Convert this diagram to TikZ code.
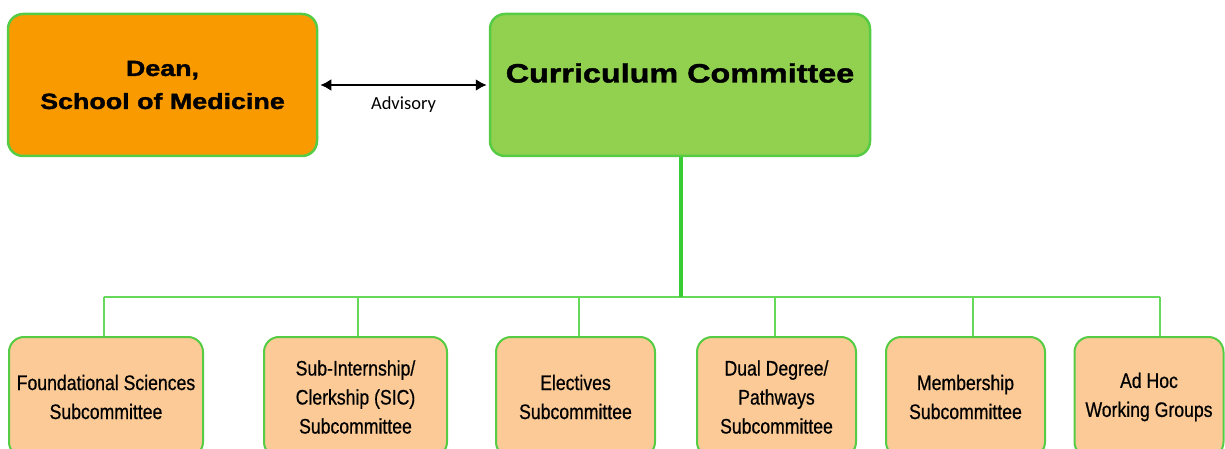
\documentclass[tikz,border=0pt]{standalone}
\usepackage{fontspec}
\setmainfont{Liberation Sans}
\newfontfamily\headfont[FakeStretch=1.22, BoldFeatures={FakeBold=1.6}]{Liberation Sans}
\newfontfamily\subfont[FakeStretch=0.84, FakeBold=0.6]{Liberation Sans}
\newfontfamily\notefont{Carlito}
\usetikzlibrary{arrows.meta}
\definecolor{deanorange}{HTML}{F99B00}
\definecolor{ccgreen}{HTML}{92D050}
\definecolor{subpeach}{HTML}{FBCA97}
\definecolor{edgegreen}{HTML}{55CC44}
\definecolor{linkgreen}{HTML}{66D95A}
\definecolor{trunkgreen}{HTML}{3ACC35}
\tikzset{
topbox/.style={
  rectangle,
  rounded corners=15pt,
  draw=edgegreen,
  line width=2.5pt,
  minimum height=142pt,
  align=center
},
subbox/.style={
  rectangle,
  rounded corners=15pt,
  draw=edgegreen,
  line width=2pt,
  fill=subpeach,
  minimum height=120pt,
  align=center,
  font=\subfont\fontsize{21}{29}\selectfont
},
link/.style={draw=linkgreen, line width=2pt},
trunk/.style={draw=trunkgreen, line width=3.5pt},
tip/.style={Latex[length=11pt,width=12pt]}
}

\begin{document}
\begin{tikzpicture}[x=1pt,y=-1pt]
\useasboundingbox (0,0) rectangle (1225,449);
\clip (0,0) rectangle (1225,449);
% the top row
\node[topbox, fill=deanorange, minimum width=309pt,
      font=\headfont\bfseries\fontsize{22}{33}\selectfont] (dean) at (162.5,85)
  {Dean,\\School of Medicine};
\node[topbox, fill=ccgreen, minimum width=380pt] (cc) at (680,85) {};
\node[font=\headfont\bfseries\fontsize{26.5}{32}\selectfont] (cctext) at (680,73)
  {Curriculum Committee};
\draw[{Latex[length=11pt,width=12pt]}-{Latex[length=11pt,width=12pt]}, line width=2.8pt]
  ([xshift=2pt]dean.east) -- node[below=7pt, font=\notefont\fontsize{18.5}{20}\selectfont] (adv) {Advisory}
  ([xshift=-2pt]cc.west);
% the subcommittees
\node[subbox, minimum width=194pt] (sub1) at (106,397) {Foundational Sciences\\Subcommittee};
\node[subbox, minimum width=183pt] (sub2) at (355.5,397) {Sub-Internship/\\Clerkship (SIC)\\Subcommittee};
\node[subbox, minimum width=159pt] (sub3) at (575.5,397) {Electives\\Subcommittee};
\node[subbox, minimum width=159pt] (sub4) at (776.5,397) {Dual Degree/\\Pathways\\Subcommittee};
\node[subbox, minimum width=159pt] (sub5) at (965.5,397) {Membership\\Subcommittee};
\node[subbox, minimum width=149pt] (sub6) at (1149,397) {Ad Hoc\\Working Groups};
% the connectors
\coordinate (busL) at (104,297);
\coordinate (busR) at (1160,297);
\draw[link] (busL) -- (busR);
\draw[trunk] ([xshift=1pt]cc.south) -- ([xshift=1pt]cc.south |- busL);
\foreach \n/\x in {1/104,2/358,3/579,4/775,5/973,6/1160}
{
  \coordinate (drop\n) at (\x,297);
  \draw[link] (drop\n) -- (drop\n |- sub\n.north);
}
\end{tikzpicture}
\end{document}
